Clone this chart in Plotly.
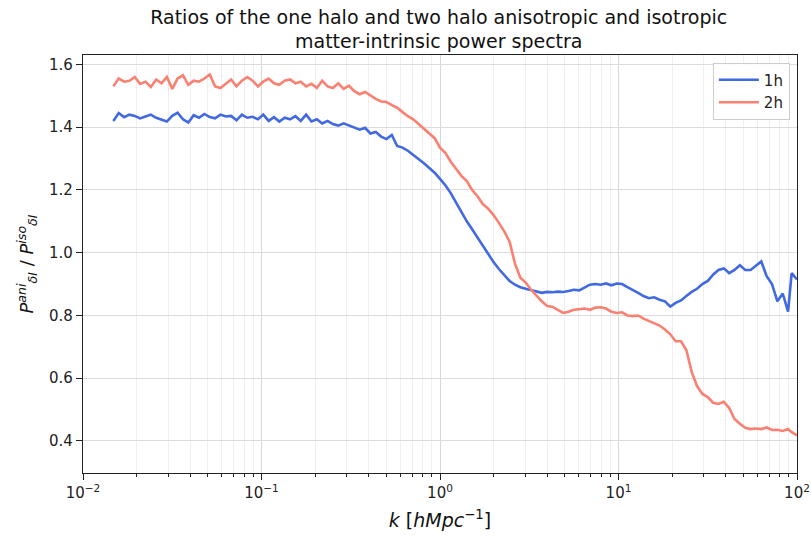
import numpy as np
import plotly.graph_objects as go

# log10(k) sample positions
LOGK = [-1.83, -1.80, -1.77, -1.74, -1.71, -1.68, -1.65, -1.62, -1.59, -1.56,
        -1.53, -1.50, -1.47, -1.44, -1.41, -1.38, -1.35, -1.32, -1.29, -1.26,
        -1.23, -1.20, -1.17, -1.14, -1.11, -1.08, -1.05, -1.02, -0.99, -0.96,
        -0.93, -0.90, -0.87, -0.84, -0.81, -0.78, -0.75, -0.72, -0.69, -0.66,
        -0.63, -0.60, -0.57, -0.54, -0.51, -0.48, -0.45, -0.42, -0.39, -0.36,
        -0.33, -0.30, -0.27, -0.24, -0.21, -0.18, -0.15, -0.12, -0.09, -0.06,
        -0.03, 0.00, 0.03, 0.06, 0.09, 0.12, 0.15, 0.18, 0.21, 0.24,
        0.27, 0.30, 0.33, 0.36, 0.39, 0.42, 0.45, 0.48, 0.51, 0.54,
        0.57, 0.60, 0.63, 0.66, 0.69, 0.72, 0.75, 0.78, 0.81, 0.84,
        0.87, 0.90, 0.93, 0.96, 0.99, 1.02, 1.05, 1.08, 1.11, 1.14,
        1.17, 1.20, 1.23, 1.26, 1.29, 1.32, 1.35, 1.38, 1.41, 1.44,
        1.47, 1.50, 1.53, 1.56, 1.59, 1.62, 1.65, 1.68, 1.71, 1.74,
        1.77, 1.80, 1.83, 1.86, 1.89, 1.92, 1.95, 1.97, 2.00]

RATIO_1H = [1.420, 1.445, 1.432, 1.440, 1.436, 1.428, 1.434, 1.440, 1.430, 1.425,
            1.418, 1.436, 1.446, 1.425, 1.415, 1.438, 1.430, 1.442, 1.432, 1.428,
            1.440, 1.434, 1.436, 1.422, 1.440, 1.430, 1.433, 1.425, 1.440, 1.420,
            1.432, 1.418, 1.430, 1.425, 1.435, 1.420, 1.440, 1.418, 1.425, 1.412,
            1.420, 1.410, 1.405, 1.412, 1.405, 1.400, 1.392, 1.398, 1.380, 1.385,
            1.370, 1.362, 1.375, 1.340, 1.335, 1.325, 1.312, 1.300, 1.285, 1.270,
            1.255, 1.235, 1.215, 1.190, 1.160, 1.130, 1.100, 1.075, 1.048, 1.025,
            0.998, 0.970, 0.948, 0.930, 0.910, 0.898, 0.890, 0.885, 0.880, 0.876,
            0.872, 0.875, 0.874, 0.876, 0.875, 0.878, 0.882, 0.880, 0.890, 0.898,
            0.900, 0.898, 0.902, 0.896, 0.902, 0.900, 0.890, 0.882, 0.872, 0.862,
            0.855, 0.858, 0.850, 0.845, 0.828, 0.840, 0.848, 0.862, 0.875, 0.885,
            0.900, 0.910, 0.930, 0.945, 0.950, 0.935, 0.945, 0.960, 0.945, 0.945,
            0.960, 0.972, 0.925, 0.900, 0.845, 0.870, 0.812, 0.935, 0.915]

RATIO_2H = [1.530, 1.555, 1.545, 1.548, 1.560, 1.538, 1.545, 1.528, 1.552, 1.540,
            1.560, 1.522, 1.555, 1.565, 1.535, 1.548, 1.545, 1.555, 1.568, 1.530,
            1.525, 1.538, 1.552, 1.530, 1.548, 1.560, 1.548, 1.530, 1.545, 1.555,
            1.540, 1.535, 1.548, 1.552, 1.540, 1.545, 1.530, 1.538, 1.525, 1.548,
            1.530, 1.525, 1.540, 1.522, 1.532, 1.515, 1.505, 1.512, 1.500, 1.490,
            1.482, 1.480, 1.470, 1.462, 1.448, 1.435, 1.425, 1.410, 1.395, 1.380,
            1.365, 1.335, 1.318, 1.290, 1.268, 1.245, 1.228, 1.200, 1.180, 1.155,
            1.140, 1.120, 1.095, 1.068, 1.035, 0.965, 0.920, 0.905, 0.882, 0.862,
            0.845, 0.830, 0.828, 0.818, 0.808, 0.812, 0.818, 0.820, 0.822, 0.818,
            0.825, 0.826, 0.822, 0.812, 0.808, 0.810, 0.800, 0.798, 0.800, 0.790,
            0.782, 0.775, 0.768, 0.755, 0.740, 0.718, 0.718, 0.690, 0.620, 0.575,
            0.550, 0.540, 0.522, 0.518, 0.525, 0.505, 0.470, 0.455, 0.442, 0.438,
            0.440, 0.438, 0.443, 0.435, 0.436, 0.432, 0.438, 0.428, 0.418]

SERIES_NAMES = ["1h", "2h"]
X_TICK_VALS = [0.01, 0.1, 1, 10, 100]
X_TICK_TEXT = ["10<sup>−2</sup>", "10<sup>−1</sup>", "10<sup>0</sup>", "10<sup>1</sup>", "10<sup>2</sup>"]
Y_TICK_VALS = [0.4, 0.6, 0.8, 1.0, 1.2, 1.4, 1.6]

k = [10 ** v for v in LOGK]

FONT = "DejaVu Sans"
fig = go.Figure()
fig.add_trace(go.Scatter(x=k, y=RATIO_1H, mode="lines", name=SERIES_NAMES[0],
                         line=dict(color="#4169E1", width=2.6)))
fig.add_trace(go.Scatter(x=k, y=RATIO_2H, mode="lines", name=SERIES_NAMES[1],
                         line=dict(color="#FA8072", width=2.6)))

fig.update_layout(
    width=811, height=538,
    margin=dict(l=83, r=14, t=55, b=65, autoexpand=False),
    paper_bgcolor="white", plot_bgcolor="white",
    font=dict(family=FONT, size=15, color="#222"),
    title=dict(text="Ratios of the one halo and two halo anisotropic and isotropic<br>matter-intrinsic power spectra",
               x=0.541, xanchor="center", y=0.956, yanchor="top", yref="container",
               font=dict(family=FONT, size=19, color="#111")),
    legend=dict(x=0.99, y=0.982, xanchor="right", yanchor="top",
                bgcolor="rgba(255,255,255,0.9)", bordercolor="#cccccc", borderwidth=1,
                font=dict(family=FONT, size=15, color="#222"), itemwidth=40,
                tracegroupgap=0),
    showlegend=True,
)

fig.update_xaxes(
    type="log", range=[-2, 2], automargin=False,
    tickvals=X_TICK_VALS, ticktext=X_TICK_TEXT,
    ticks="outside", ticklen=6, tickwidth=1, tickcolor="#222",
    showline=True, linecolor="#222", linewidth=1.2, mirror=True,
    showgrid=True, gridcolor="#d8d8d8", gridwidth=1,
    minor=dict(dtick="D1", ticks="outside", ticklen=3, tickcolor="#222",
               showgrid=True, gridcolor="#efefef", gridwidth=1),
    tickfont=dict(family=FONT, size=15, color="#222"),
    title=dict(text="<i>k</i> [<i>hMpc</i><sup>−1</sup>]", standoff=12,
               font=dict(family=FONT, size=19, color="#111")),
    zeroline=False,
)
fig.update_yaxes(
    range=[0.298, 1.63], automargin=False,
    tickvals=Y_TICK_VALS, tickformat=".1f",
    ticks="outside", ticklen=6, tickwidth=1, tickcolor="#222",
    showline=True, linecolor="#222", linewidth=1.2, mirror=True,
    showgrid=True, gridcolor="#dcdcdc", gridwidth=1,
    tickfont=dict(family=FONT, size=15, color="#222"),
    title=dict(text="<i>P</i><sup><i>ani</i></sup><sub><i>δI</i></sub> / <i>P</i><sup><i>iso</i></sup><sub><i>δI</i></sub>",
               standoff=10, font=dict(family=FONT, size=18, color="#111")),
    zeroline=False,
)

fig.write_html("out.html")
